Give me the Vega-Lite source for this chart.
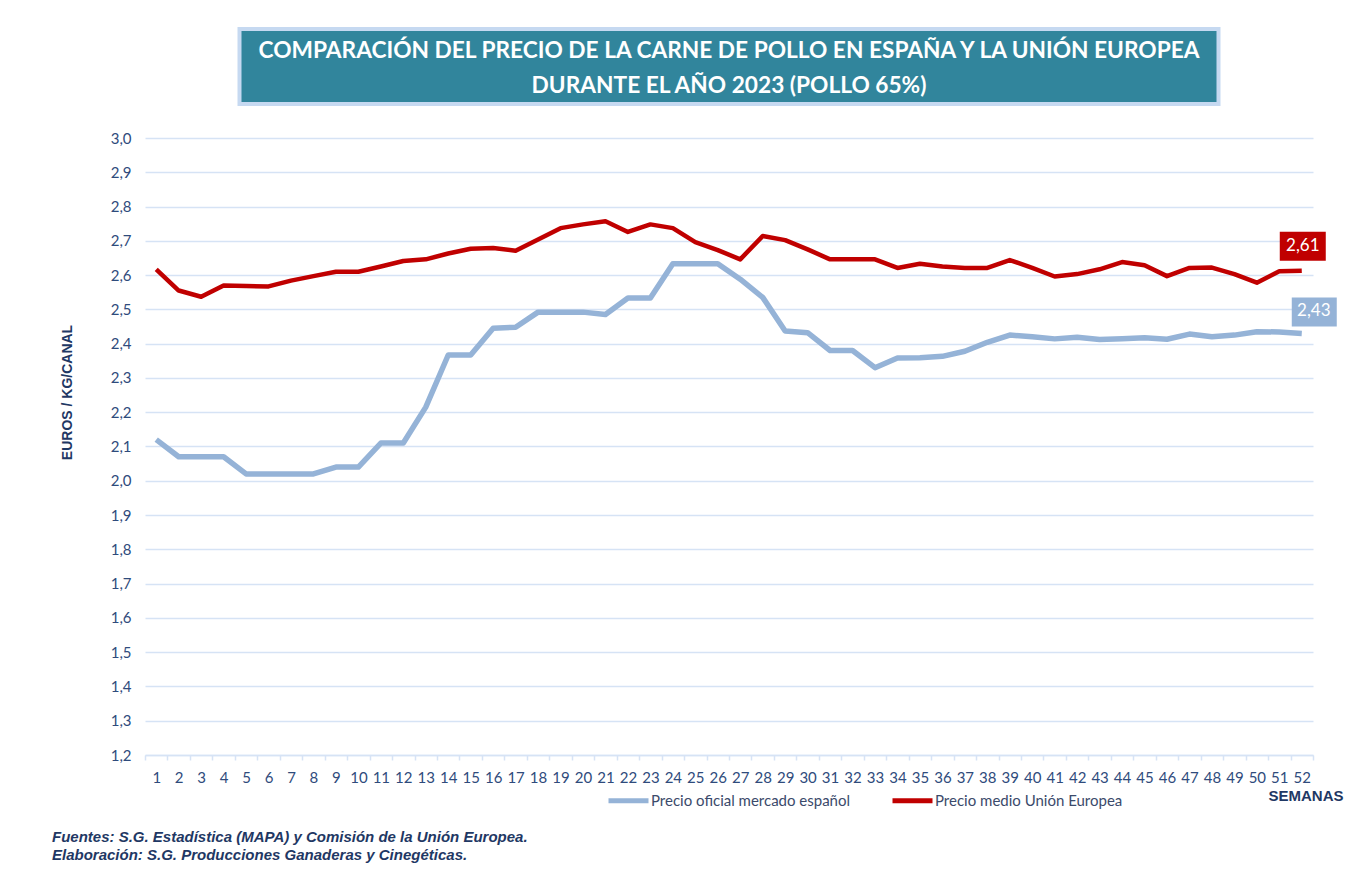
{
  "$schema": "https://vega.github.io/schema/vega-lite/v6.json",
  "background": "white",
  "padding": {"left": 52, "top": 27, "right": 10, "bottom": 10},
  "bounds": "flush",
  "center": true,
  "spacing": 34,
  "config": {"view": {"stroke": null}, "font": "Lato"},
  "datasets": {
    "precios": [
      {"semana": 1, "serie": "Precio oficial mercado español", "precio": 2.12},
      {"semana": 2, "serie": "Precio oficial mercado español", "precio": 2.07},
      {"semana": 3, "serie": "Precio oficial mercado español", "precio": 2.07},
      {"semana": 4, "serie": "Precio oficial mercado español", "precio": 2.07},
      {"semana": 5, "serie": "Precio oficial mercado español", "precio": 2.02},
      {"semana": 6, "serie": "Precio oficial mercado español", "precio": 2.02},
      {"semana": 7, "serie": "Precio oficial mercado español", "precio": 2.02},
      {"semana": 8, "serie": "Precio oficial mercado español", "precio": 2.02},
      {"semana": 9, "serie": "Precio oficial mercado español", "precio": 2.04},
      {"semana": 10, "serie": "Precio oficial mercado español", "precio": 2.04},
      {"semana": 11, "serie": "Precio oficial mercado español", "precio": 2.11},
      {"semana": 12, "serie": "Precio oficial mercado español", "precio": 2.11},
      {"semana": 13, "serie": "Precio oficial mercado español", "precio": 2.215},
      {"semana": 14, "serie": "Precio oficial mercado español", "precio": 2.367},
      {"semana": 15, "serie": "Precio oficial mercado español", "precio": 2.367},
      {"semana": 16, "serie": "Precio oficial mercado español", "precio": 2.445},
      {"semana": 17, "serie": "Precio oficial mercado español", "precio": 2.448},
      {"semana": 18, "serie": "Precio oficial mercado español", "precio": 2.492},
      {"semana": 19, "serie": "Precio oficial mercado español", "precio": 2.492},
      {"semana": 20, "serie": "Precio oficial mercado español", "precio": 2.492},
      {"semana": 21, "serie": "Precio oficial mercado español", "precio": 2.485},
      {"semana": 22, "serie": "Precio oficial mercado español", "precio": 2.533},
      {"semana": 23, "serie": "Precio oficial mercado español", "precio": 2.533},
      {"semana": 24, "serie": "Precio oficial mercado español", "precio": 2.633},
      {"semana": 25, "serie": "Precio oficial mercado español", "precio": 2.633},
      {"semana": 26, "serie": "Precio oficial mercado español", "precio": 2.633},
      {"semana": 27, "serie": "Precio oficial mercado español", "precio": 2.588},
      {"semana": 28, "serie": "Precio oficial mercado español", "precio": 2.535},
      {"semana": 29, "serie": "Precio oficial mercado español", "precio": 2.437},
      {"semana": 30, "serie": "Precio oficial mercado español", "precio": 2.432},
      {"semana": 31, "serie": "Precio oficial mercado español", "precio": 2.38},
      {"semana": 32, "serie": "Precio oficial mercado español", "precio": 2.38},
      {"semana": 33, "serie": "Precio oficial mercado español", "precio": 2.33},
      {"semana": 34, "serie": "Precio oficial mercado español", "precio": 2.358},
      {"semana": 35, "serie": "Precio oficial mercado español", "precio": 2.359},
      {"semana": 36, "serie": "Precio oficial mercado español", "precio": 2.363},
      {"semana": 37, "serie": "Precio oficial mercado español", "precio": 2.378},
      {"semana": 38, "serie": "Precio oficial mercado español", "precio": 2.404},
      {"semana": 39, "serie": "Precio oficial mercado español", "precio": 2.425},
      {"semana": 40, "serie": "Precio oficial mercado español", "precio": 2.42},
      {"semana": 41, "serie": "Precio oficial mercado español", "precio": 2.414},
      {"semana": 42, "serie": "Precio oficial mercado español", "precio": 2.419},
      {"semana": 43, "serie": "Precio oficial mercado español", "precio": 2.412},
      {"semana": 44, "serie": "Precio oficial mercado español", "precio": 2.414},
      {"semana": 45, "serie": "Precio oficial mercado español", "precio": 2.417},
      {"semana": 46, "serie": "Precio oficial mercado español", "precio": 2.413},
      {"semana": 47, "serie": "Precio oficial mercado español", "precio": 2.428},
      {"semana": 48, "serie": "Precio oficial mercado español", "precio": 2.42},
      {"semana": 49, "serie": "Precio oficial mercado español", "precio": 2.425},
      {"semana": 50, "serie": "Precio oficial mercado español", "precio": 2.435},
      {"semana": 51, "serie": "Precio oficial mercado español", "precio": 2.434},
      {"semana": 52, "serie": "Precio oficial mercado español", "precio": 2.43},
      {"semana": 1, "serie": "Precio medio Unión Europea", "precio": 2.617},
      {"semana": 2, "serie": "Precio medio Unión Europea", "precio": 2.555},
      {"semana": 3, "serie": "Precio medio Unión Europea", "precio": 2.537},
      {"semana": 4, "serie": "Precio medio Unión Europea", "precio": 2.57},
      {"semana": 5, "serie": "Precio medio Unión Europea", "precio": 2.568},
      {"semana": 6, "serie": "Precio medio Unión Europea", "precio": 2.567},
      {"semana": 7, "serie": "Precio medio Unión Europea", "precio": 2.584},
      {"semana": 8, "serie": "Precio medio Unión Europea", "precio": 2.597},
      {"semana": 9, "serie": "Precio medio Unión Europea", "precio": 2.61},
      {"semana": 10, "serie": "Precio medio Unión Europea", "precio": 2.61},
      {"semana": 11, "serie": "Precio medio Unión Europea", "precio": 2.625},
      {"semana": 12, "serie": "Precio medio Unión Europea", "precio": 2.641},
      {"semana": 13, "serie": "Precio medio Unión Europea", "precio": 2.646},
      {"semana": 14, "serie": "Precio medio Unión Europea", "precio": 2.663},
      {"semana": 15, "serie": "Precio medio Unión Europea", "precio": 2.677},
      {"semana": 16, "serie": "Precio medio Unión Europea", "precio": 2.679},
      {"semana": 17, "serie": "Precio medio Unión Europea", "precio": 2.671},
      {"semana": 18, "serie": "Precio medio Unión Europea", "precio": 2.704},
      {"semana": 19, "serie": "Precio medio Unión Europea", "precio": 2.737},
      {"semana": 20, "serie": "Precio medio Unión Europea", "precio": 2.748},
      {"semana": 21, "serie": "Precio medio Unión Europea", "precio": 2.757},
      {"semana": 22, "serie": "Precio medio Unión Europea", "precio": 2.726},
      {"semana": 23, "serie": "Precio medio Unión Europea", "precio": 2.748},
      {"semana": 24, "serie": "Precio medio Unión Europea", "precio": 2.737},
      {"semana": 25, "serie": "Precio medio Unión Europea", "precio": 2.696},
      {"semana": 26, "serie": "Precio medio Unión Europea", "precio": 2.673},
      {"semana": 27, "serie": "Precio medio Unión Europea", "precio": 2.646},
      {"semana": 28, "serie": "Precio medio Unión Europea", "precio": 2.714},
      {"semana": 29, "serie": "Precio medio Unión Europea", "precio": 2.702},
      {"semana": 30, "serie": "Precio medio Unión Europea", "precio": 2.675},
      {"semana": 31, "serie": "Precio medio Unión Europea", "precio": 2.646},
      {"semana": 32, "serie": "Precio medio Unión Europea", "precio": 2.646},
      {"semana": 33, "serie": "Precio medio Unión Europea", "precio": 2.646},
      {"semana": 34, "serie": "Precio medio Unión Europea", "precio": 2.621},
      {"semana": 35, "serie": "Precio medio Unión Europea", "precio": 2.633},
      {"semana": 36, "serie": "Precio medio Unión Europea", "precio": 2.625},
      {"semana": 37, "serie": "Precio medio Unión Europea", "precio": 2.621},
      {"semana": 38, "serie": "Precio medio Unión Europea", "precio": 2.621},
      {"semana": 39, "serie": "Precio medio Unión Europea", "precio": 2.644},
      {"semana": 40, "serie": "Precio medio Unión Europea", "precio": 2.621},
      {"semana": 41, "serie": "Precio medio Unión Europea", "precio": 2.596},
      {"semana": 42, "serie": "Precio medio Unión Europea", "precio": 2.603},
      {"semana": 43, "serie": "Precio medio Unión Europea", "precio": 2.617},
      {"semana": 44, "serie": "Precio medio Unión Europea", "precio": 2.638},
      {"semana": 45, "serie": "Precio medio Unión Europea", "precio": 2.629},
      {"semana": 46, "serie": "Precio medio Unión Europea", "precio": 2.597},
      {"semana": 47, "serie": "Precio medio Unión Europea", "precio": 2.621},
      {"semana": 48, "serie": "Precio medio Unión Europea", "precio": 2.622},
      {"semana": 49, "serie": "Precio medio Unión Europea", "precio": 2.603},
      {"semana": 50, "serie": "Precio medio Unión Europea", "precio": 2.578},
      {"semana": 51, "serie": "Precio medio Unión Europea", "precio": 2.611},
      {"semana": 52, "serie": "Precio medio Unión Europea", "precio": 2.613}
    ]
  },
  "vconcat": [
    {
      "width": 979,
      "height": 75,
      "view": {"fill": "#31859C", "stroke": "#C6D9F1", "strokeWidth": 4},
      "data": {"values": [
        {"linea": 1, "texto": "COMPARACIÓN DEL PRECIO DE LA CARNE DE POLLO EN ESPAÑA Y LA UNIÓN EUROPEA"},
        {"linea": 2, "texto": "DURANTE EL AÑO 2023 (POLLO 65%)"}
      ]},
      "mark": {"type": "text", "font": "Lato", "fontWeight": "bold", "fontSize": 22.7, "color": "#FFFFFF", "baseline": "middle", "align": "center", "dy": 2},
      "encoding": {
        "y": {"field": "linea", "type": "ordinal", "axis": null, "scale": {"padding": 0.57}},
        "text": {"field": "texto"}
      }
    },
    {
      "width": 1168,
      "height": 617,
      "data": {"name": "precios"},
      "title": {
        "text": ["Fuentes: S.G. Estadística (MAPA) y Comisión de la Unión Europea.", "Elaboración: S.G. Producciones Ganaderas y Cinegéticas."],
        "orient": "bottom",
        "anchor": "start",
        "frame": "bounds",
        "dx": -8,
        "offset": 27,
        "font": "Liberation Sans",
        "fontSize": 15,
        "fontStyle": "italic",
        "fontWeight": "bold",
        "color": "#1F3864",
        "lineHeight": 17.5
      },
      "layer": [
        {
          "transform": [{"filter": "datum.serie == 'Precio oficial mercado español'"}],
          "mark": {"type": "line", "strokeWidth": 5.5, "strokeJoin": "round"},
          "encoding": {
            "x": {
              "field": "semana", "type": "ordinal",
              "scale": {"type": "band", "paddingInner": 0, "paddingOuter": 0},
              "axis": {
                "title": "SEMANAS", "titleFont": "Liberation Sans", "titleFontWeight": "bold",
                "titleFontSize": 15, "titleColor": "#1F3864", "titleX": 1198, "titleY": 40, "titleAlign": "right", "titleBaseline": "middle",
                "labelAngle": 0, "labelFont": "Lato", "labelFontSize": 15, "labelColor": "#2F4B7C", "labelPadding": 10,
                "tickBand": "extent", "tickColor": "#D6E3F5", "tickSize": 5, "tickWidth": 1.5,
                "domainColor": "#D6E3F5", "domainWidth": 1.5, "grid": false
              }
            },
            "y": {
              "field": "precio", "type": "quantitative",
              "scale": {"domain": [1.2, 3.0], "zero": false, "nice": false},
              "axis": {
                "title": "EUROS / KG/CANAL", "titleFont": "Liberation Sans", "titleFontWeight": "bold", "titleFontSize": 14,
                "titleColor": "#1F3864", "titleX": -78, "titleY": 254, "titleAlign": "center", "titleBaseline": "middle", "titleAngle": -90,
                "values": [1.2, 1.3, 1.4, 1.5, 1.6, 1.7, 1.8, 1.9, 2.0, 2.1, 2.2, 2.3, 2.4, 2.5, 2.6, 2.7, 2.8, 2.9, 3.0],
                "tickCount": 40,
                "labelOverlap": false,
                "labelExpr": "replace(format(datum.value, '.1f'), '.', ',')",
                "labelFont": "Lato", "labelFontSize": 15, "labelColor": "#2F4B7C", "labelPadding": 14,
                "grid": true, "gridColor": "#D6E3F5", "gridWidth": 1.3, "domain": false, "ticks": false
              }
            },
            "color": {
              "field": "serie", "type": "nominal",
              "scale": {"domain": ["Precio oficial mercado español", "Precio medio Unión Europea"], "range": ["#95B3D7", "#C00000"]},
              "legend": {
                "title": null, "orient": "none", "direction": "horizontal", "legendX": 461, "legendY": 749,
                "symbolType": "stroke", "symbolSize": 1600, "symbolStrokeWidth": 5,
                "labelFont": "Lato", "labelFontSize": 15, "labelColor": "#3B4A6B", "labelLimit": 0, "columnPadding": 31, "labelOffset": 0
              }
            }
          }
        },
        {
          "transform": [{"filter": "datum.serie == 'Precio medio Unión Europea'"}],
          "mark": {"type": "line", "strokeWidth": 4.5, "strokeJoin": "round"},
          "encoding": {
            "x": {"field": "semana", "type": "ordinal"},
            "y": {"field": "precio", "type": "quantitative"},
            "color": {"field": "serie", "type": "nominal"}
          }
        },
        {
          "transform": [{"filter": "datum.semana == 52 && datum.serie == 'Precio medio Unión Europea'"}],
          "mark": {"type": "point", "shape": "M-2.2,-3.9H2.4V-1.0H-2.2Z", "size": 400, "filled": true, "opacity": 1, "color": "#C00000"},
          "encoding": {
            "x": {"field": "semana", "type": "ordinal"},
            "y": {"field": "precio", "type": "quantitative"}
          }
        },
        {
          "transform": [{"filter": "datum.semana == 52 && datum.serie == 'Precio oficial mercado español'"}],
          "mark": {"type": "point", "shape": "M-1.0,-3.6H3.5V-0.7H-1.0Z", "size": 400, "filled": true, "opacity": 1, "color": "#95B3D7"},
          "encoding": {
            "x": {"field": "semana", "type": "ordinal"},
            "y": {"field": "precio", "type": "quantitative"}
          }
        },
        {
          "transform": [
            {"filter": "datum.semana == 52 && datum.serie == 'Precio medio Unión Europea'"},
            {"calculate": "replace(format(datum.precio, '.2f'), '.', ',')", "as": "etiqueta"}
          ],
          "mark": {"type": "text", "dx": 1, "dy": -25, "color": "#FFFFFF", "font": "Lato", "fontSize": 17, "baseline": "middle", "align": "center"},
          "encoding": {
            "x": {"field": "semana", "type": "ordinal"},
            "y": {"field": "precio", "type": "quantitative"},
            "text": {"field": "etiqueta"}
          }
        },
        {
          "transform": [
            {"filter": "datum.semana == 52 && datum.serie == 'Precio oficial mercado español'"},
            {"calculate": "replace(format(datum.precio, '.2f'), '.', ',')", "as": "etiqueta"}
          ],
          "mark": {"type": "text", "dx": 12, "dy": -22, "color": "#FFFFFF", "font": "Lato", "fontSize": 17, "baseline": "middle", "align": "center"},
          "encoding": {
            "x": {"field": "semana", "type": "ordinal"},
            "y": {"field": "precio", "type": "quantitative"},
            "text": {"field": "etiqueta"}
          }
        }
      ]
    }
  ]
}
